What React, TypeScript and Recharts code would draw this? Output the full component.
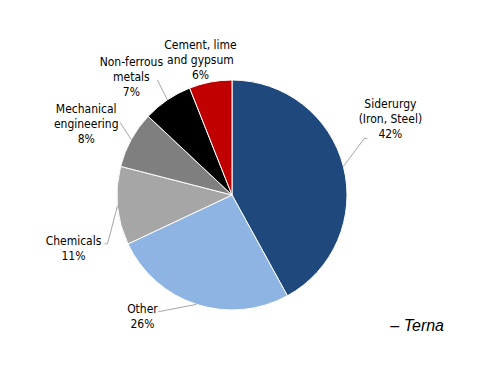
/* Industrial electricity consumption by sector — pie with outside labels */
import { PieChart, Pie, Cell } from 'recharts';

const sectors = [
  'Siderurgy\n(Iron, Steel)',
  'Other',
  'Chemicals',
  'Mechanical\nengineering',
  'Non-ferrous\nmetals',
  'Cement, lime\nand gypsum',
];
const shares = [42, 26, 11, 8, 7, 6];
const colors = ['#1F497D', '#8DB4E2', '#A6A6A6', '#7F7F7F', '#000000', '#C00000'];

const data = sectors.map((name, i) => ({ name, value: shares[i] }));

// label placement relative to the slice's point on the rim (best-fit, as in the original)
const labelOffset: { dx: number; dy: number; lx?: number; ly?: number; foot?: number }[] = [
  { dx: 47, dy: -47, lx: 21, ly: -28, foot: 3 },
  { dx: -54, dy: 12, lx: -36, ly: 7, foot: -2 },
  { dx: -44, dy: 43, lx: -10, ly: 38, foot: -3 },
  { dx: -45, dy: -16, lx: -11, ly: -17 },
  { dx: -36, dy: -23, lx: -10, ly: -20 },
  { dx: -10, dy: -22 },
];

const RAD = Math.PI / 180;
const LINE_H = 15;

function renderLabel(props: any) {
  const { cx, cy, midAngle, outerRadius, index, name, value } = props;
  const px = cx + outerRadius * Math.cos(midAngle * RAD);
  const py = cy - outerRadius * Math.sin(midAngle * RAD);
  const o = labelOffset[index];
  const lines = [...String(name).split('\n'), `${value}%`];
  const x = px + o.dx;
  const y0 = py + o.dy - ((lines.length - 1) * LINE_H) / 2 + 4;
  let path = '';
  if (o.lx !== undefined && o.ly !== undefined) {
    const ex = px + o.lx, ey = py + o.ly;
    path = `M${px},${py}L${ex},${ey}`;
    if (o.foot) path += `L${ex + o.foot},${ey}`;
  }
  return (
    <g key={`lbl-${index}`}>
      {path && <path d={path} stroke="#A6A6A6" strokeWidth={1} fill="none" />}
      <text x={x} y={y0} textAnchor="middle" fill="#000"
        style={{ fontFamily: '"DejaVu Sans Condensed", "DejaVu Sans", sans-serif', fontSize: 12 }}>
        {lines.map((t, j) => (
          <tspan key={j} x={x} dy={j === 0 ? 0 : LINE_H}>{t}</tspan>
        ))}
      </text>
    </g>
  );
}

export default function App() {
  return (
    <div style={{ position: 'fixed', left: 0, top: 0, width: 500, height: 386, background: '#fff' }}>
      <PieChart width={500} height={386} margin={{ top: 0, right: 0, bottom: 0, left: 0 }}>
        <Pie
          data={data} dataKey="value" nameKey="name"
          cx={232} cy={195} outerRadius={115}
          startAngle={90} endAngle={-270}
          stroke="#fff" strokeWidth={1}
          label={renderLabel} labelLine={false}
          isAnimationActive={false}
        >
          {data.map((d, i) => <Cell key={d.name} fill={colors[i]} />)}
        </Pie>
      </PieChart>
      <div style={{
        position: 'absolute', right: 56, top: 317, fontFamily: '"Liberation Sans", Arial, sans-serif',
        fontStyle: 'italic', fontSize: 16, color: '#000',
      }}>
        – Terna
      </div>
    </div>
  );
}
